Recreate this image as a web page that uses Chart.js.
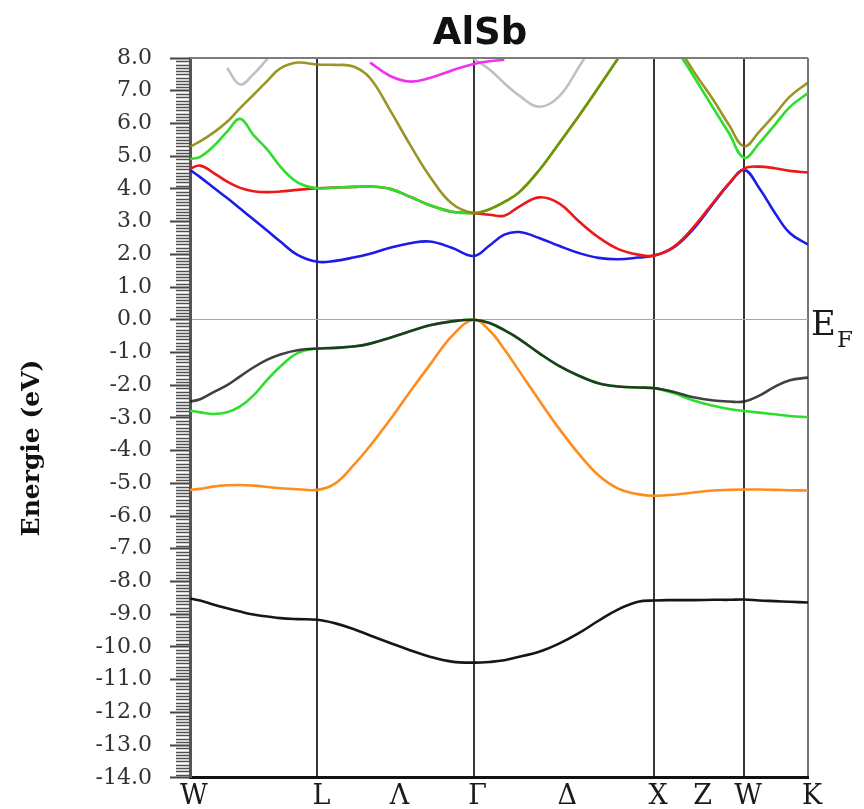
<!DOCTYPE html>
<html>
<head>
<meta charset="utf-8">
<title>AlSb</title>
<script src="https://cdn.jsdelivr.net/npm/chart.js@4.4.1/dist/chart.umd.min.js"></script>
<style>
  html, body { margin: 0; padding: 0; background: #fff; }
  #bands { display: block; }
</style>
</head>
<body>
<canvas id="bands" width="864" height="809"></canvas>
<script>
/* ── AlSb band structure along W–L–Γ–X–W–K ─────────── */

const SERIF = "'DejaVu Serif', 'Liberation Serif', serif";

// k-path distance (2π/a units), shared by every band
const kPath = [
  0, 0.056, 0.128, 0.206, 0.278, 0.351, 0.429, 0.501, 0.596, 0.707,
  0.806, 0.906, 0.999, 1.11, 1.22, 1.33, 1.452, 1.573,
  1.661, 1.743, 1.826, 1.936, 2.046, 2.156, 2.265, 2.375, 2.485, 2.573,
  2.68, 2.792, 2.904, 2.989, 3.073,
  3.157, 3.242, 3.326, 3.427,
];

const symTicks = [0, 0.707, 1.14, 1.573, 2.07, 2.573, 2.82, 3.073, 3.427];
const symLabels = ["W", "L", "Λ", "Γ", "Δ", "X", "Z", "W", "K"];
const symLines = [0.707, 1.573, 2.573, 3.073];

const yMin = -14;
const yMax = 8;

// energies (eV), one value per kPath point
const band1 = [
  -8.52, -8.58, -8.7, -8.82, -8.92, -9.01, -9.07, -9.12, -9.15, -9.17,
  -9.28, -9.45, -9.65, -9.88, -10.1, -10.3, -10.45, -10.48,
  -10.46, -10.41, -10.3, -10.15, -9.9, -9.58, -9.2, -8.85, -8.62, -8.58,
  -8.57, -8.57, -8.56, -8.56, -8.55,
  -8.58, -8.6, -8.62, -8.64,
];
const band2 = [
  -5.2, -5.17, -5.1, -5.06, -5.05, -5.07, -5.11, -5.15, -5.18, -5.2,
  -5.0, -4.45, -3.85, -3.05, -2.2, -1.38, -0.5, 0,
  -0.33, -0.9, -1.57, -2.46, -3.32, -4.1, -4.75, -5.16, -5.33, -5.38,
  -5.35, -5.28, -5.22, -5.2, -5.19,
  -5.19, -5.2, -5.21, -5.22,
];
const band3 = [
  -2.78, -2.83, -2.88, -2.83, -2.65, -2.32, -1.83, -1.43, -1.02, -0.88,
  -0.86, -0.82, -0.73, -0.55, -0.35, -0.17, -0.05, 0,
  -0.1, -0.32, -0.59, -1.02, -1.41, -1.71, -1.94, -2.04, -2.07, -2.09,
  -2.24, -2.47, -2.63, -2.73, -2.79,
  -2.84, -2.89, -2.94, -2.98,
];
const band4 = [
  -2.5, -2.43, -2.22, -2.0, -1.73, -1.46, -1.22, -1.06, -0.93, -0.88,
  -0.86, -0.82, -0.73, -0.55, -0.35, -0.17, -0.05, 0,
  -0.1, -0.32, -0.59, -1.02, -1.41, -1.71, -1.94, -2.04, -2.07, -2.09,
  -2.2, -2.37, -2.47, -2.5, -2.5,
  -2.32, -2.05, -1.85, -1.77,
];
const band5 = [
  4.58, 4.36, 4.05, 3.72, 3.4, 3.07, 2.72, 2.39, 1.98, 1.77,
  1.8, 1.9, 2.02, 2.2, 2.34, 2.39, 2.2, 1.95,
  2.27, 2.6, 2.68, 2.5, 2.26, 2.04, 1.89, 1.85, 1.9, 1.96,
  2.2, 2.78, 3.57, 4.15, 4.58,
  4.02, 3.28, 2.65, 2.3,
];
const band6 = [
  4.62, 4.71, 4.5, 4.22, 4.03, 3.93, 3.9, 3.92, 3.97, 4.02,
  4.04, 4.06, 4.07, 4.0, 3.76, 3.5, 3.3, 3.26,
  3.21, 3.18, 3.46, 3.74, 3.56, 3.01, 2.52, 2.16, 1.99, 1.96,
  2.22, 2.83, 3.6, 4.17, 4.62,
  4.68, 4.63, 4.55, 4.5,
];
const band7 = [
  4.91, 4.98, 5.29, 5.75, 6.14, 5.65, 5.2, 4.68, 4.2, 4.02,
  4.04, 4.06, 4.07, 4.0, 3.76, 3.5, 3.3, 3.26,
  3.38, 3.6, 3.9, 4.57, 5.39, 6.23, 7.1, 8.0, 8.9, 9.6,
  8.45, 7.45, 6.45, 5.7, 4.95,
  5.4, 5.95, 6.5, 6.93,
];
const band8 = [
  5.29, 5.45, 5.71, 6.05, 6.47, 6.87, 7.3, 7.68, 7.86, 7.8,
  7.79, 7.74, 7.38, 6.4, 5.35, 4.38, 3.55, 3.26,
  3.38, 3.6, 3.9, 4.57, 5.39, 6.23, 7.1, 8.0, 8.9, 9.6,
  8.6, 7.6, 6.7, 5.95, 5.3,
  5.75, 6.27, 6.82, 7.25,
];
const band9 = [
  null, null, null, null, null, null, null, null, null, null,
  null, null, 7.86, 7.45, 7.28, 7.39, 7.62, 7.82,
  7.9, 7.95, null, null, null, null, null, null, null, null,
  null, null, null, null, null,
  null, null, null, null,
];
const band10 = [
  null, null, null, 7.69, 7.19, 7.5, 7.97, 8.4, null, null,
  null, null, null, null, null, null, null, 7.97,
  7.65, 7.23, 6.85, 6.51, 6.82, 7.72, 8.7, null, null, null,
  null, null, null, null, null,
  null, null, null, null,
];

function band(values, color, width = 2.6) {
  return {
    data: kPath.map((k, i) => ({ x: k, y: values[i] })),
    borderColor: color,
    borderWidth: width,
    pointRadius: 0,
    fill: false,
    spanGaps: false,
    tension: 0.4,
    clip: 0,
  };
}

const decorations = {
  id: "decorations",
  afterDraw(chart) {
    const { ctx, chartArea: a, scales } = chart;
    const y = scales.y;
    ctx.save();

    // top edge of the frame
    ctx.strokeStyle = "#7c7c7c";
    ctx.lineWidth = 2;
    ctx.beginPath();
    ctx.moveTo(a.left, a.top);
    ctx.lineTo(a.right, a.top);
    ctx.stroke();

    // minor ticks every 0.1 eV
    ctx.strokeStyle = "#505050";
    ctx.lineWidth = 1.3;
    ctx.beginPath();
    for (let i = yMin * 10; i <= yMax * 10; i++) {
      if (i % 10 === 0) continue;
      const py = Math.round(y.getPixelForValue(i / 10)) + 0.5;
      ctx.moveTo(a.left - 14, py);
      ctx.lineTo(a.left, py);
    }
    ctx.stroke();

    // title
    ctx.fillStyle = "#111";
    ctx.font = "bold 37px 'DejaVu Sans', sans-serif";
    ctx.textAlign = "center";
    ctx.textBaseline = "alphabetic";
    ctx.fillText("AlSb", 480, 44);

    // Fermi level label
    ctx.textAlign = "left";
    ctx.fillStyle = "#1a1a1a";
    ctx.font = `34px ${SERIF}`;
    ctx.fillText("E", 811, 335);
    ctx.font = `23px ${SERIF}`;
    ctx.fillText("F", 837, 347);

    // y-axis title
    ctx.translate(32, 448);
    ctx.rotate(-Math.PI / 2);
    ctx.textAlign = "center";
    ctx.textBaseline = "middle";
    ctx.font = `bold 25px ${SERIF}`;
    ctx.fillStyle = "#111";
    ctx.fillText("Energie (eV)", 0, 0);

    ctx.restore();
  },
};

new Chart(document.getElementById("bands"), {
  type: "line",
  data: {
    datasets: [
      band(band8, "rgba(136, 130, 0, 0.85)"),
      band(band7, "rgb(45, 222, 45)"),
      band(band6, "rgb(236, 24, 24)"),
      band(band5, "rgb(28, 28, 232)"),
      band(band9, "rgb(240, 50, 240)"),
      band(band10, "rgb(192, 192, 192)"),
      band(band4, "rgba(30, 30, 30, 0.85)"),
      band(band3, "rgb(45, 222, 45)"),
      band(band2, "rgb(255, 140, 30)"),
      band(band1, "rgb(22, 22, 22)"),
    ],
  },
  options: {
    responsive: false,
    animation: false,
    devicePixelRatio: 1,
    layout: { padding: { top: 58, right: 56, left: 0, bottom: 0 } },
    plugins: { legend: { display: false }, tooltip: { enabled: false } },
    scales: {
      x: {
        type: "linear",
        min: 0,
        max: kPath[kPath.length - 1],
        afterBuildTicks: (scale) => {
          scale.ticks = symTicks.map((v) => ({ value: v }));
        },
        afterFit: (scale) => {
          scale.height = 31;
        },
        ticks: {
          autoSkip: false,
          maxRotation: 0,
          padding: 3,
          labelOffset: 4,
          color: "#1a1a1a",
          font: { family: SERIF, size: 27 },
          callback: (v, i) => symLabels[i],
        },
        grid: {
          drawTicks: false,
          lineWidth: 2,
          color: (ctx) => {
            const v = ctx.tick && ctx.tick.value;
            if (v === kPath[kPath.length - 1]) return "#777";
            return symLines.includes(v) ? "#363636" : "transparent";
          },
        },
        border: { display: true, color: "#111", width: 3 },
      },
      y: {
        min: yMin,
        max: yMax,
        afterFit: (scale) => {
          scale.width = 190;
        },
        ticks: {
          stepSize: 1,
          padding: 18,
          color: "#333",
          font: { family: SERIF, size: 22 },
          callback: (v) => v.toFixed(1),
        },
        grid: {
          tickLength: 20,
          tickWidth: 2,
          tickColor: "#444",
          lineWidth: 1,
          color: (ctx) =>
            ctx.tick && ctx.tick.value === 0 ? "#a6a6a6" : "transparent",
        },
        border: { display: true, color: "#555", width: 3 },
      },
    },
  },
  plugins: [decorations],
});
</script>
</body>
</html>
